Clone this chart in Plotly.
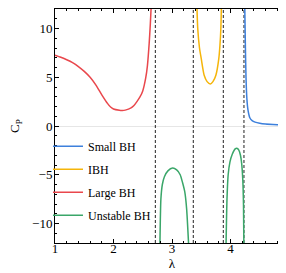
import plotly.graph_objects as go

# ---- data ----
large_x = [1.0, 1.1, 1.2, 1.3, 1.4, 1.5, 1.6, 1.7, 1.8, 1.9, 1.95, 2.0, 2.1, 2.15, 2.2, 2.3, 2.35, 2.4, 2.45, 2.5, 2.55, 2.58, 2.61, 2.63, 2.65]
large_y = [7.27, 7.05, 6.8, 6.5, 6.1, 5.6, 5.0, 4.2, 3.2, 2.3, 1.95, 1.75, 1.62, 1.6, 1.63, 1.85, 2.1, 2.5, 2.95, 3.6, 4.9, 6.2, 8.5, 10.5, 13.0]

ibh_x = [3.425, 3.44, 3.47, 3.50, 3.55, 3.60, 3.655, 3.70, 3.75, 3.80, 3.82, 3.835, 3.845]
ibh_y = [12.5, 10.0, 8.0, 6.9, 5.2, 4.55, 4.3, 4.55, 5.2, 6.9, 8.3, 10.0, 12.5]

small_x = [4.243, 4.255, 4.265, 4.28, 4.30, 4.33, 4.37, 4.42, 4.5, 4.6, 4.8, 5.0]
small_y = [12.5, 8.0, 5.0, 2.8, 1.6, 0.85, 0.55, 0.4, 0.28, 0.2, 0.12, 0.06]

unst1_x = [2.793, 2.81, 2.835, 2.87, 2.93, 3.01, 3.08, 3.14, 3.18, 3.22, 3.25, 3.287]
unst1_y = [-12.5, -7.5, -6.0, -5.2, -4.6, -4.32, -4.5, -5.0, -5.8, -6.8, -8.5, -12.5]

unst2_x = [3.923, 3.94, 3.96, 3.99, 4.03, 4.08, 4.11, 4.14, 4.17, 4.19, 4.21, 4.222, 4.229]
unst2_y = [-12.5, -7.5, -5.0, -3.7, -2.9, -2.35, -2.28, -2.45, -3.0, -3.8, -5.5, -8.0, -12.5]

spinodals = [2.715, 3.364, 3.877, 4.23]

x_ticks = [1, 2, 3, 4, 5]
y_ticks = [-10, -5, 0, 5, 10]

BLUE = "#3d80dc"
ORANGE = "#f5b50a"
RED = "#e9474c"
GREEN = "#3aa669"
FONT = "Liberation Serif"

fig = go.Figure()

for v in spinodals:
    fig.add_trace(go.Scatter(x=[v, v], y=[-12, 12], mode="lines",
                             line=dict(color="#222222", width=1, dash="3px,2px"),
                             showlegend=False, hoverinfo="skip"))

lw = 1.5
sp = dict(shape="spline", smoothing=0.6, width=lw)
fig.add_trace(go.Scatter(x=small_x, y=small_y, mode="lines", name="Small BH",
                         legendgroup="s", line=dict(color=BLUE, **sp)))
fig.add_trace(go.Scatter(x=ibh_x, y=ibh_y, mode="lines", name="IBH",
                         legendgroup="i", line=dict(color=ORANGE, **sp)))
fig.add_trace(go.Scatter(x=large_x, y=large_y, mode="lines", name="Large BH",
                         legendgroup="l", line=dict(color=RED, **sp)))
fig.add_trace(go.Scatter(x=unst1_x, y=unst1_y, mode="lines", name="Unstable BH",
                         legendgroup="u", line=dict(color=GREEN, **sp)))
fig.add_trace(go.Scatter(x=unst2_x, y=unst2_y, mode="lines", name="Unstable BH",
                         legendgroup="u", showlegend=False, line=dict(color=GREEN, **sp)))

axis_common = dict(
    showline=True, linecolor="black", linewidth=1, mirror="allticks",
    ticks="inside", ticklen=4, tickwidth=1, tickcolor="black",
    showgrid=False,
    tickfont=dict(family=FONT, size=13, color="black"),
)

fig.update_xaxes(range=[1, 5], tickvals=x_ticks, zeroline=False, ticklabelstandoff=-7,
                 minor=dict(dtick=0.2, ticks="inside", ticklen=2, tickcolor="black", showgrid=False),
                 title=dict(text="λ", font=dict(family=FONT, size=13, color="black"), standoff=4),
                 **axis_common)
fig.update_yaxes(range=[-12, 12], tickvals=y_ticks, ticklabelstandoff=-1,
                 zeroline=True, zerolinecolor="#e6e6e6", zerolinewidth=1,
                 minor=dict(dtick=1, ticks="inside", ticklen=2, tickcolor="black", showgrid=False),
                 **axis_common)

fig.add_annotation(text="C<sub>P</sub>", xref="paper", yref="paper",
                   x=-0.171, y=0.5, xanchor="center", yanchor="middle",
                   textangle=-90, showarrow=False,
                   font=dict(family=FONT, size=13, color="black"))

fig.update_layout(
    width=286, height=273,
    margin=dict(l=47, r=5, t=1, b=38),
    paper_bgcolor="white", plot_bgcolor="white",
    font=dict(family=FONT, color="black"),
    showlegend=True,
    legend=dict(x=-0.03, y=0.475, xanchor="left", yanchor="top",
                bgcolor="rgba(0,0,0,0)", borderwidth=0,
                font=dict(family=FONT, size=12, color="black"),
                itemwidth=30, tracegroupgap=4, traceorder="grouped"),
)

fig.write_html("out.html")
